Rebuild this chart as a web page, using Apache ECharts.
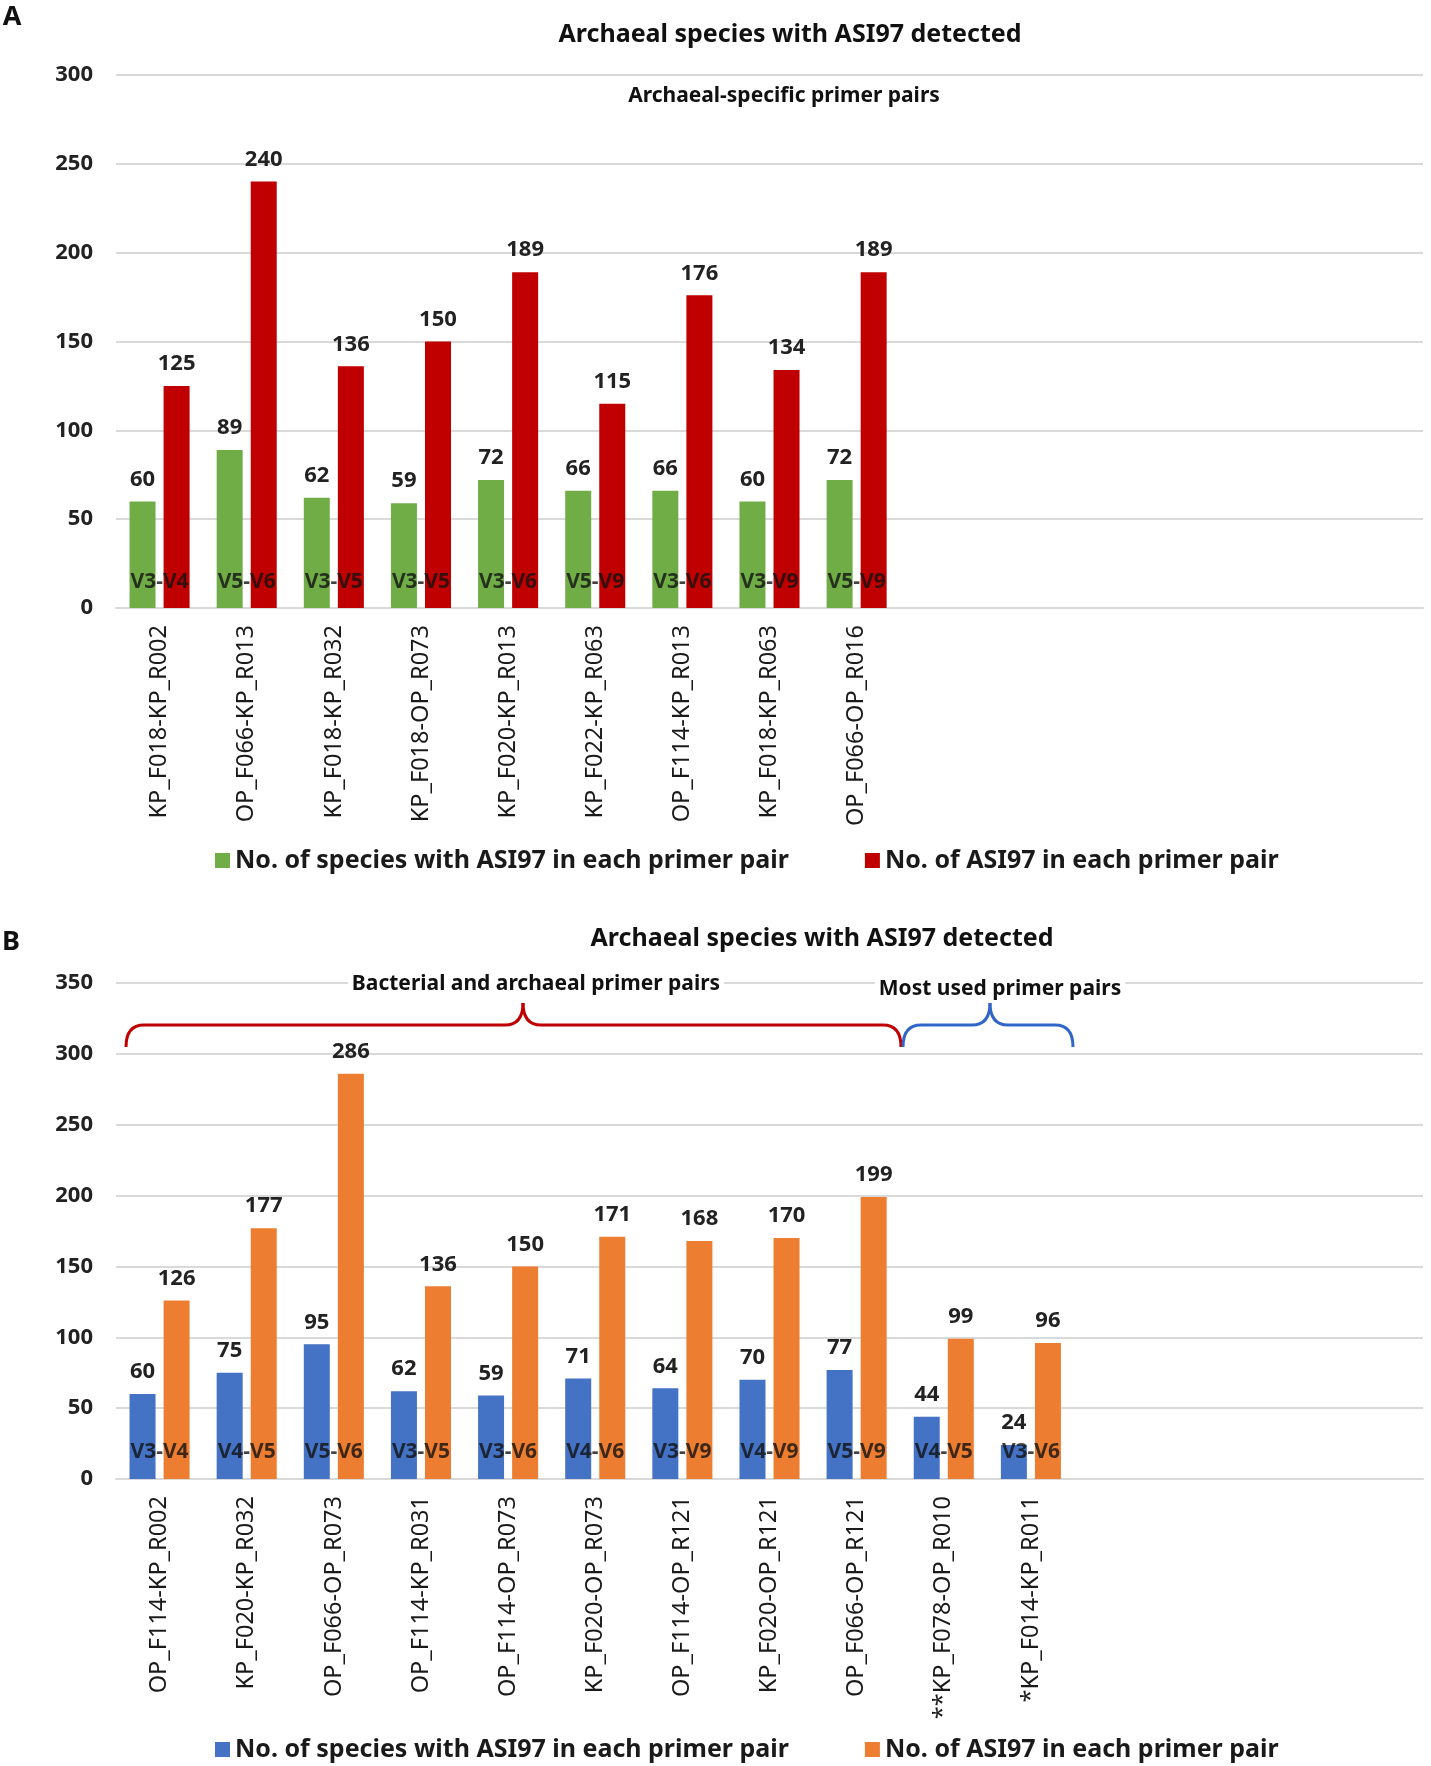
<!DOCTYPE html>
<html>
<head>
<meta charset="utf-8">
<script src="https://cdn.jsdelivr.net/npm/echarts@6/dist/echarts.min.js"></script>
<style>
  html, body { margin: 0; padding: 0; background: #fff; }
  #main { width: 1431px; height: 1766px; }
</style>
</head>
<body>
<div id="main"></div>
<script>
// panel A - archaeal-specific primer pairs
const pairsA = ['KP_F018-KP_R002', 'OP_F066-KP_R013', 'KP_F018-KP_R032', 'KP_F018-OP_R073', 'KP_F020-KP_R013',
    'KP_F022-KP_R063', 'OP_F114-KP_R013', 'KP_F018-KP_R063', 'OP_F066-OP_R016']
const regionsA = ['V3-V4', 'V5-V6', 'V3-V5', 'V3-V5', 'V3-V6', 'V5-V9', 'V3-V6', 'V3-V9', 'V5-V9']
const speciesA = [60, 89, 62, 59, 72, 66, 66, 60, 72]
const asiA = [125, 240, 136, 150, 189, 115, 176, 134, 189]

// panel B - bacterial/archaeal and most used primer pairs
const pairsB = ['OP_F114-KP_R002', 'KP_F020-KP_R032', 'OP_F066-OP_R073', 'OP_F114-KP_R031', 'OP_F114-OP_R073',
    'KP_F020-OP_R073', 'OP_F114-OP_R121', 'KP_F020-OP_R121', 'OP_F066-OP_R121', '**KP_F078-OP_R010', '*KP_F014-KP_R011']
const regionsB = ['V3-V4', 'V4-V5', 'V5-V6', 'V3-V5', 'V3-V6', 'V4-V6', 'V3-V9', 'V4-V9', 'V5-V9', 'V4-V5', 'V3-V6']
const speciesB = [60, 75, 95, 62, 59, 71, 64, 70, 77, 44, 24]
const asiB = [126, 177, 286, 136, 150, 171, 168, 170, 199, 99, 96]

const legendNames = {
    speciesA: 'No. of species with ASI97 in each primer pair',
    asiA: 'No. of ASI97 in each primer pair',
    speciesB: 'No. of species with ASI97 in each primer pair',
    asiB: 'No. of ASI97 in each primer pair'
}

const SLOTS = 15 // the axis keeps room for 15 pairs
function pad(list) {
    const out = list.slice()
    while (out.length < SLOTS) out.push('')
    return out
}

const FONT = '"Noto Sans", "Open Sans", sans-serif'
const gridLine = { lineStyle: { color: '#d9d9d9', width: 2 } }

function xAxis(idx, cats) {
    return {
        type: 'category',
        gridIndex: idx,
        data: pad(cats),
        axisTick: { show: false },
        axisLine: gridLine,
        axisLabel: {
            interval: 0,
            rotate: 90,
            margin: 17,
            fontFamily: FONT,
            fontSize: 23.5,
            color: '#1a1a1a'
        }
    }
}

function yAxis(idx, max) {
    return {
        type: 'value',
        gridIndex: idx,
        min: 0,
        max: max,
        interval: 50,
        axisLine: { show: false },
        axisTick: { show: false },
        splitLine: gridLine,
        axisLabel: {
            margin: 23,
            fontFamily: FONT,
            fontSize: 22,
            fontWeight: 'bold',
            color: '#222'
        }
    }
}

function barSeries(name, idx, values, color) {
    return {
        name: name,
        type: 'bar',
        xAxisIndex: idx,
        yAxisIndex: idx,
        data: values,
        barWidth: 26,
        barGap: '31%',
        itemStyle: { color: color },
        label: {
            show: true,
            position: 'top',
            distance: 11,
            fontFamily: FONT,
            fontSize: 22,
            fontWeight: 'bold',
            color: '#222'
        }
    }
}

// variable region written across the foot of each pair
function regionSeries(idx, regions, lift) {
    return {
        type: 'scatter',
        xAxisIndex: idx,
        yAxisIndex: idx,
        symbolSize: 1,
        itemStyle: { color: 'rgba(0,0,0,0)' },
        silent: true,
        z: 5,
        data: regions.map(() => 0),
        label: {
            show: true,
            position: 'inside',
            offset: [0, -lift],
            formatter: p => regions[p.dataIndex],
            fontFamily: FONT,
            fontSize: 21,
            fontWeight: 'bold',
            color: '#111'
        }
    }
}

function txt(text, x, y, size, boxed) {
    const style = {
        text: text,
        fill: '#111',
        font: 'bold ' + size + 'px ' + FONT,
        textAlign: 'center',
        align: 'center',
        textVerticalAlign: 'middle',
        verticalAlign: 'middle'
    }
    if (boxed) {
        style.backgroundColor = '#fff'
        style.padding = [0, 4]
    }
    return { type: 'text', x: x, y: y, z: 10, style: style }
}

// curly brace over a range of pairs, built from curves and lines
function brace(x0, x1, tip, color) {
    const yTip = 1003, yFlat = 1025, yEnd = 1047, r = 18
    const style = { stroke: color, lineWidth: 3, fill: null }
    const curve = (ax, ay, cx, cy, bx, by) => ({
        type: 'bezierCurve',
        shape: { x1: ax, y1: ay, x2: bx, y2: by, cpx1: cx, cpy1: cy },
        style: style
    })
    const line = (ax, bx) => ({
        type: 'line',
        shape: { x1: ax, y1: yFlat, x2: bx, y2: yFlat },
        style: style
    })
    return {
        type: 'group',
        children: [
            curve(x0, yEnd, x0, yFlat, x0 + r, yFlat),
            line(x0 + r, tip - r),
            curve(tip - r, yFlat, tip, yFlat, tip, yTip),
            curve(tip, yTip, tip, yFlat, tip + r, yFlat),
            line(tip + r, x1 - r),
            curve(x1 - r, yFlat, x1, yFlat, x1, yEnd)
        ]
    }
}

function legend(top, names) {
    return {
        left: 210,
        top: top,
        itemWidth: 15,
        itemHeight: 15,
        itemGap: 76,
        icon: 'rect',
        data: names,
        formatter: n => legendNames[n],
        textStyle: {
            fontFamily: FONT,
            fontSize: 25,
            fontWeight: 'bold',
            color: '#1a1a1a'
        }
    }
}

var myChart = echarts.init(document.getElementById('main'))

option = {
    animation: false,
    backgroundColor: '#fff',
    grid: [
        { left: 116, right: 8, top: 75, height: 533 },
        { left: 116, right: 8, top: 983, height: 496 }
    ],
    xAxis: [xAxis(0, pairsA), xAxis(1, pairsB)],
    yAxis: [yAxis(0, 300), yAxis(1, 350)],
    legend: [legend(843, ['speciesA', 'asiA']), legend(1732, ['speciesB', 'asiB'])],
    series: [
        barSeries('speciesA', 0, speciesA, '#70ad47'),
        barSeries('asiA', 0, asiA, '#c00000'),
        regionSeries(0, regionsA, 26),
        barSeries('speciesB', 1, speciesB, '#4472c4'),
        barSeries('asiB', 1, asiB, '#ed7d31'),
        regionSeries(1, regionsB, 27)
    ],
    graphic: [
        txt('A', 12, 17, 27),
        txt('Archaeal species with ASI97 detected', 790, 35, 25),
        txt('Archaeal-specific primer pairs', 784, 96, 21),
        txt('B', 11, 942, 27),
        txt('Archaeal species with ASI97 detected', 822, 939, 25),
        txt('Bacterial and archaeal primer pairs', 536, 984, 21, true),
        txt('Most used primer pairs', 1000, 989, 21, true),
        brace(126, 901, 523, '#c00000'),
        brace(903, 1073, 990, '#3166c9')
    ]
}

myChart.setOption(option)
</script>
</body>
</html>
